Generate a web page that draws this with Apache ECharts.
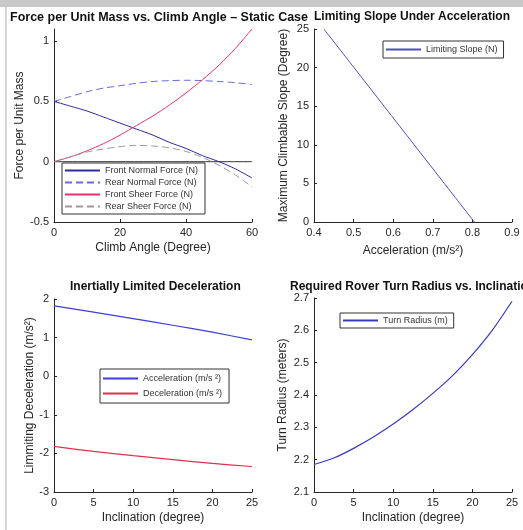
<!DOCTYPE html>
<html><head><meta charset="utf-8">
<script src="https://cdn.jsdelivr.net/npm/echarts@6/dist/echarts.min.js"></script>
<style>html,body{margin:0;padding:0;background:#fff}#c{width:523px;height:530px}</style>
</head><body><div id="c"></div>
<script>
// ---- Data ----
var climbAngle = [0,5,10,15,20,25,30,35,40,45,50,55,60];
var frontNormal = [0.5,0.46,0.42,0.37,0.32,0.27,0.22,0.16,0.11,0.05,0.0,-0.06,-0.135];
var rearNormal  = [0.5,0.54,0.58,0.61,0.63,0.65,0.665,0.672,0.675,0.672,0.665,0.655,0.64];
var frontSheer  = [0,0.04,0.09,0.15,0.22,0.30,0.38,0.47,0.57,0.68,0.80,0.94,1.10];
var rearSheer   = [0,0.04,0.08,0.105,0.125,0.135,0.13,0.115,0.085,0.035,-0.03,-0.11,-0.21];
var zeroRef     = [0,0];
var zeroAngle   = [0,60];

var slopeDeg  = [25,20,15,10,5,0];
var slopeAcc  = [0.425,0.501,0.577,0.653,0.729,0.805];

var inclA     = [0,5,10,15,20,25];
var accelVals = [1.82,1.66,1.49,1.32,1.14,0.94];
var decelVals = [-1.82,-1.95,-2.06,-2.16,-2.26,-2.34];

var inclR     = [0,2.5,5,7.5,10,12.5,15,17.5,20,22.5,25];
var turnRad   = [2.185,2.205,2.235,2.27,2.31,2.355,2.405,2.46,2.525,2.60,2.69];

function pairs(xs, ys){ return xs.map(function(x,i){ return [x, ys[i]]; }); }

var FONT = 'Liberation Sans, Arial, sans-serif';
var AX = '#262626';
function xAx(idx, min, max, interval, name, gap){
  return {type:'value', gridIndex:idx, min:min, max:max, interval:interval,
    name:name, nameLocation:'middle', nameGap:gap,
    nameTextStyle:{fontFamily:FONT, fontSize:12, color:AX},
    axisLine:{onZero:false, lineStyle:{color:AX, width:1}},
    axisTick:{inside:true, length:3, lineStyle:{color:AX}},
    axisLabel:{fontFamily:FONT, fontSize:11, color:AX, margin:5},
    splitLine:{show:false}};
}
function yAx(idx, min, max, interval, name, gap, showMax){
  return {type:'value', gridIndex:idx, min:min, max:max, interval:interval,
    name:name, nameLocation:'middle', nameGap:gap,
    nameTextStyle:{fontFamily:FONT, fontSize:12, color:AX},
    axisLine:{show:true, onZero:false, lineStyle:{color:AX, width:1}},
    axisTick:{inside:true, length:3, lineStyle:{color:AX}},
    axisLabel:{fontFamily:FONT, fontSize:11, color:AX, margin:5, showMaxLabel:showMax},
    splitLine:{show:false}};
}
function legend(left, top, names, opts){
  return {left:left, top:top, orient:'vertical', data:names,
    itemWidth:opts.iw, itemHeight:opts.ih, itemGap:opts.gap,
    padding:opts.pad, borderColor:'#333', borderWidth:1, backgroundColor:'#fff',
    itemStyle:{opacity:0},
    textStyle:{fontFamily:FONT, fontSize:opts.fs, color:'#333'}};
}
function line(name, xi, data, color, dashed, width){
  return {name:name, type:'line', xAxisIndex:xi, yAxisIndex:xi, data:data,
    symbol:'none', smooth:0.3, animation:false,
    lineStyle:{color:color, width:width||1, type:dashed?[7,4]:'solid'},
    itemStyle:{color:color}};
}

var chart = echarts.init(document.getElementById('c'));
chart.setOption({
  backgroundColor:'#fff',
  animation:false,
  graphic:[
    {type:'rect', shape:{x:0,y:0,width:523,height:7}, style:{fill:'#c8c8c8'}},
    {type:'rect', shape:{x:5,y:7,width:2,height:523}, style:{fill:'#d6d6d6'}}
  ],
  title:[
    {text:'Force per Unit Mass vs. Climb Angle \u2013 Static Case', left:10, top:11, padding:0,
      textStyle:{fontFamily:FONT, fontSize:12.5, fontWeight:'bold', color:'#111'}},
    {text:'Limiting Slope Under Acceleration', left:314, top:11, padding:0,
      textStyle:{fontFamily:FONT, fontSize:12, fontWeight:'bold', color:'#111'}},
    {text:'Inertially Limited Deceleration', left:70, top:281, padding:0,
      textStyle:{fontFamily:FONT, fontSize:12, fontWeight:'bold', color:'#111'}},
    {text:'Required Rover Turn Radius vs. Inclination', left:290, top:281, padding:0,
      textStyle:{fontFamily:FONT, fontSize:12, fontWeight:'bold', color:'#111'}}
  ],
  grid:[
    {left:54, top:29, width:198, height:193},
    {left:314, top:29, width:198, height:193},
    {left:54, top:299, width:198, height:193},
    {left:314, top:298, width:198, height:194}
  ],
  xAxis:[
    xAx(0, 0, 60, 20, 'Climb Angle (Degree)', 20),
    xAx(1, 0.4, 0.9, 0.1, 'Acceleration (m/s\u00b2)', 23),
    xAx(2, 0, 25, 5, 'Inclination (degree)', 20),
    xAx(3, 0, 25, 5, 'Inclination (degree)', 20)
  ],
  yAxis:[
    yAx(0, -0.5, 1.1, 0.5, 'Force per Unit Mass', 22, false),
    yAx(1, 0, 25, 5, 'Maximum Climbable Slope (Degree)', 24, true),
    yAx(2, -3, 2, 1, 'Limmiting Deceleration (m/s\u00b2)', 17, true),
    yAx(3, 2.1, 2.7, 0.1, 'Turn Radius (meters)', 25, true)
  ],
  legend:[
    legend(62, 163, ['Front Normal Force (N)','Rear Normal Force (N)','Front Sheer Force (N)','Rear Sheer Force (N)'],
      {iw:35, ih:10, gap:3, pad:[3,7,3,2], fs:9}),
    legend(383, 41, ['Limiting Slope (N)'], {iw:35, ih:10, gap:3, pad:[4,6,4,2], fs:9}),
    legend(100, 369, ['Acceleration (m/s \u00b2)','Deceleration (m/s \u00b2)'], {iw:35, ih:10, gap:6, pad:[5,7,5,2], fs:9}),
    legend(340, 313, ['Turn Radius (m)'], {iw:35, ih:10, gap:3, pad:[3,6,3,2], fs:9})
  ],
  series:[
    line('zero', 0, pairs(zeroAngle, zeroRef), '#333333', false, 1),
    line('Front Normal Force (N)', 0, pairs(climbAngle, frontNormal), '#2b2b9e', false, 1),
    line('Rear Normal Force (N)', 0, pairs(climbAngle, rearNormal), '#6a6ad8', true, 1),
    line('Front Sheer Force (N)', 0, pairs(climbAngle, frontSheer), '#e8336a', false, 1),
    line('Rear Sheer Force (N)', 0, pairs(climbAngle, rearSheer), '#a09898', true, 1),
    line('Limiting Slope (N)', 1, pairs(slopeAcc, slopeDeg), '#5050b4', false, 1),
    line('Acceleration (m/s \u00b2)', 2, pairs(inclA, accelVals), '#3c3ce0', false, 1.2),
    line('Deceleration (m/s \u00b2)', 2, pairs(inclA, decelVals), '#e2304c', false, 1.2),
    line('Turn Radius (m)', 3, pairs(inclR, turnRad), '#3a3abf', false, 1.2)
  ]
});
</script>
</body></html>
